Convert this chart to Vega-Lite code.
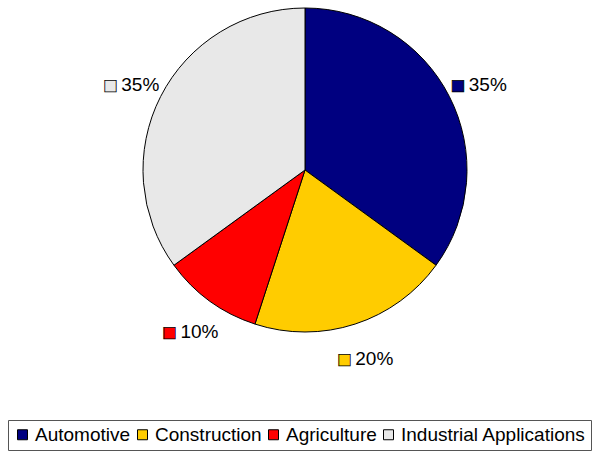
{
  "$schema": "https://vega.github.io/schema/vega-lite/v6.json",
  "width": 574,
  "height": 340,
  "autosize": {"type": "none"},
  "padding": {"left": 18, "top": 0, "right": 1, "bottom": 111},
  "background": "white",
  "config": {"view": {"stroke": null}, "font": "Liberation Sans"},
  "data": {
    "values": [
      {"sector": "Automotive", "value": 35, "label": "35%", "order": 1},
      {"sector": "Construction", "value": 20, "label": "20%", "order": 2},
      {"sector": "Agriculture", "value": 10, "label": "10%", "order": 3},
      {"sector": "Industrial Applications", "value": 35, "label": "35%", "order": 4}
    ]
  },
  "encoding": {
    "theta": {"field": "value", "type": "quantitative", "stack": true},
    "order": {"field": "order", "type": "ordinal"},
    "color": {
      "field": "sector",
      "type": "nominal",
      "scale": {
        "domain": ["Automotive", "Construction", "Agriculture", "Industrial Applications"],
        "range": ["#000080", "#FFCC00", "#FF0000", "#E8E8E8"]
      },
      "legend": {
        "title": null,
        "orient": "none",
        "legendX": -10,
        "legendY": 420,
        "direction": "horizontal",
        "columns": 4,
        "symbolType": "square",
        "symbolSize": 100,
        "symbolStrokeColor": "black",
        "symbolStrokeWidth": 1,
        "symbolOpacity": 1,
        "labelFont": "Liberation Sans",
        "labelFontSize": 19,
        "labelColor": "black",
        "labelOffset": 3,
        "columnPadding": 2,
        "padding": 5,
        "strokeColor": "#555555",
        "labelLimit": 400
      }
    }
  },
  "layer": [
    {"mark": {"type": "arc", "outerRadius": 162, "stroke": "black", "strokeWidth": 1}},
    {
      "mark": {"type": "text", "radius": 195, "text": "■", "font": "DejaVu Sans", "fontSize": 15, "dx": -21, "dy": 4, "align": "center", "baseline": "middle", "stroke": "black", "strokeWidth": 0.8}
    },
    {
      "mark": {"type": "text", "radius": 195, "font": "Liberation Sans", "fontSize": 19, "dx": -10, "dy": 4, "align": "left", "baseline": "middle", "fill": "black"},
      "encoding": {"text": {"field": "label"}, "color": {"value": "black"}}
    }
  ]
}
